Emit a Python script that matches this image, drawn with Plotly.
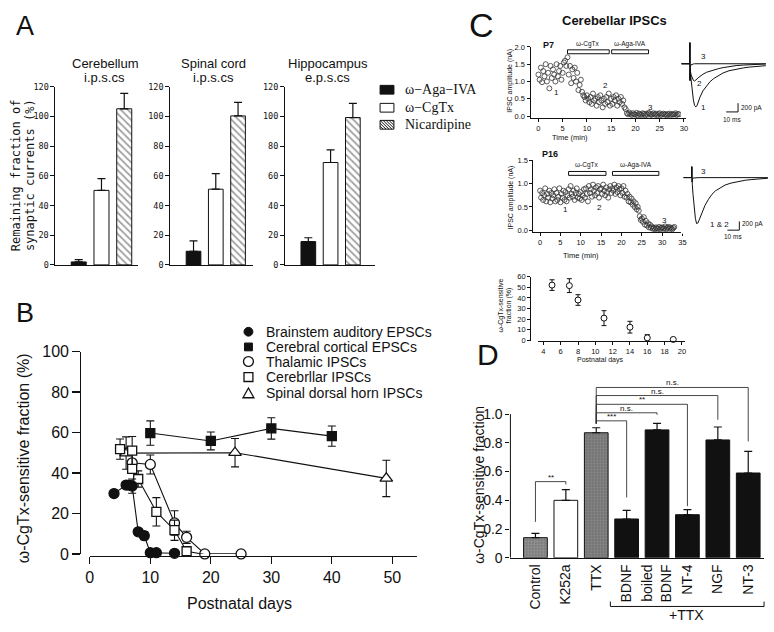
import plotly.graph_objects as go

W, H = 774, 632
SANS = "Liberation Sans, Arial, Helvetica, sans-serif"
SERIF = "Liberation Serif, Times New Roman, serif"
MONO = "DejaVu Sans Mono, monospace"
INK = "#111111"

# ======================= DATA =======================
# ---- Panel A : remaining fraction of synaptic currents (%) ----
a_regions = ["Cerebellum", "Spinal cord", "Hippocampus"]
a_kinds = ["i.p.s.cs", "i.p.s.cs", "e.p.s.cs"]
a_drugs = ["ω−Aga−IVA", "ω−CgTx", "Nicardipine"]
a_aga = [2, 9.2, 15.7]
a_aga_err = [1.5, 7, 2.6]
a_cgtx = [50.2, 51, 69]
a_cgtx_err = [8, 10.5, 8.5]
a_nic = [105.2, 100.4, 99.3]
a_nic_err = [10.4, 9.1, 9.6]
a_yticks = [0, 20, 40, 60, 80, 100, 120]

# ---- Panel B : omega-CgTx-sensitive fraction (%) vs postnatal day ----
b_names = ["Brainstem auditory EPSCs", "Cerebral cortical EPSCs", "Thalamic IPSCs",
           "Cerebrllar IPSCs", "Spinal dorsal horn IPSCs"]
b_brainstem_x = [4, 6, 6.5, 7, 8, 9, 10, 11, 14]
b_brainstem_y = [29.8, 34, 34, 33.5, 10.9, 9, 0.6, 0.6, 0.3]
b_brainstem_e = [None, None, None, 3.5, 1.5, 2, None, None, None]
b_cortical_x = [10, 20, 30, 40]
b_cortical_y = [59.7, 55.8, 62, 58.2]
b_cortical_e = [6, 4.4, 5.3, 5]
b_thal_x = [7, 10, 14, 16, 19, 25]
b_thal_y = [45, 44.2, 15.3, 8.2, 0, 0]
b_thal_e = [None, 4.7, 6, 3, None, None]
b_cereb_x = [5, 7, 7, 8, 11, 14, 16, 19]
b_cereb_y = [51.8, 51, 42, 37, 20.8, 11.7, 1.3, -0.3]
b_cereb_e = [5, 7, None, 4, 7, 5, 2, None]
b_spinal_x = [6, 24, 49]
b_spinal_y = [49.8, 50, 37.3]
b_spinal_e = [8, 7, 9]
b_xticks = [0, 10, 20, 30, 40, 50]
b_yticks = [0, 20, 40, 60, 80, 100]

# ---- Panel C : cerebellar IPSC amplitude (nA) vs time (min) ----
p7_time = [0.0, 0.25, 0.5, 0.75, 1.0, 1.25, 1.5, 1.75, 2.0, 2.25, 2.5, 2.75, 3.0, 3.25, 3.5, 3.75, 4.0, 4.25, 4.5, 4.75,
           5.0, 5.25, 5.5, 5.75, 6.0, 6.25, 6.5, 6.75, 7.0, 7.25, 7.5, 7.75, 8.0, 8.25, 8.5, 8.75, 9.0, 9.25, 9.5, 9.75,
           10.0, 10.25, 10.5, 10.75, 11.0, 11.25, 11.5, 11.75, 12.0, 12.25, 12.5, 12.75, 13.0, 13.25, 13.5, 13.75, 14.0, 14.25, 14.5, 14.75,
           15.0, 15.25, 15.5, 15.75, 16.0, 16.25, 16.5, 16.75, 17.0, 17.25, 17.5, 17.75, 18.0, 18.25, 18.5, 18.75, 19.0, 19.25, 19.5, 19.75,
           20.0, 20.25, 20.5, 20.75, 21.0, 21.25, 21.5, 21.75, 22.0, 22.25, 22.5, 22.75, 23.0, 23.25, 23.5, 23.75, 24.0, 24.25, 24.5, 24.75,
           25.0, 25.25, 25.5, 25.75, 26.0, 26.25, 26.5, 26.75, 27.0, 27.25, 27.5, 27.75, 28.0, 28.25, 28.5, 28.75, 29.0]
p7_amp = [1.20, 1.05, 1.40, 0.98, 1.30, 1.15, 1.50, 1.00, 1.25, 0.80, 1.45, 1.10, 1.35, 1.20, 1.00, 1.50, 1.15, 1.30, 1.45, 1.05,
          1.25, 1.55, 1.60, 1.45, 1.70, 1.20, 1.45, 0.95, 1.35, 1.10, 1.40, 1.00, 1.25, 0.75, 0.90, 1.05, 0.70, 0.60, 0.55, 0.45,
          0.60, 0.50, 0.40, 0.55, 0.35, 0.65, 0.45, 0.50, 0.30, 0.55, 0.40, 0.60, 0.45, 0.25, 0.50, 0.35, 0.55, 0.40, 0.65, 0.30,
          0.50, 0.35, 0.55, 0.45, 0.60, 0.30, 0.50, 0.40, 0.55, 0.35, 0.45, 0.25, 0.20, 0.08, 0.05, 0.10, 0.06, 0.03, 0.08, 0.05,
          0.04, 0.09, 0.02, 0.07, 0.05, 0.03, 0.08, 0.06, 0.02, 0.07, 0.04, 0.09, 0.06, 0.03, 0.05, 0.08, 0.04, 0.07, 0.02, 0.06,
          0.08, 0.03, 0.05, 0.07, 0.04, 0.06, 0.02, 0.05, 0.07, 0.03, 0.06, 0.04, 0.05, 0.08, 0.03, 0.06, 0.05]
p7_drug_names = ["ω-CgTx", "ω-Aga-IVA"]
p7_drug_start = [6.0, 15.1]
p7_drug_end = [14.6, 22.7]

p16_time = [0.0, 0.25, 0.5, 0.75, 1.0, 1.25, 1.5, 1.75, 2.0, 2.25, 2.5, 2.75, 3.0, 3.25, 3.5, 3.75, 4.0, 4.25, 4.5, 4.75,
            5.0, 5.25, 5.5, 5.75, 6.0, 6.25, 6.5, 6.75, 7.0, 7.25, 7.5, 7.75, 8.0, 8.25, 8.5, 8.75, 9.0, 9.25, 9.5, 9.75,
            10.0, 10.25, 10.5, 10.75, 11.0, 11.25, 11.5, 11.75, 12.0, 12.25, 12.5, 12.75, 13.0, 13.25, 13.5, 13.75, 14.0, 14.25, 14.5, 14.75,
            15.0, 15.25, 15.5, 15.75, 16.0, 16.25, 16.5, 16.75, 17.0, 17.25, 17.5, 17.75, 18.0, 18.25, 18.5, 18.75, 19.0, 19.25, 19.5, 19.75,
            20.0, 20.25, 20.5, 20.75, 21.0, 21.25, 21.5, 21.75, 22.0, 22.25, 22.5, 22.75, 23.0, 23.25, 23.5, 23.75, 24.0, 24.25, 24.5, 24.75,
            25.0, 25.25, 25.5, 25.75, 26.0, 26.25, 26.5, 26.75, 27.0, 27.25, 27.5, 27.75, 28.0, 28.25, 28.5, 28.75, 29.0, 29.25, 29.5, 29.75,
            30.0, 30.25, 30.5, 30.75, 31.0, 31.25, 31.5, 31.75, 32.0, 32.25, 32.5, 32.75, 33.0]
p16_amp = [0.85, 0.70, 0.80, 0.65, 0.75, 0.90, 0.62, 0.78, 0.70, 0.85, 0.60, 0.80, 0.68, 0.75, 0.88, 0.62, 0.80, 0.65, 0.72, 0.90,
           0.60, 0.78, 0.70, 0.85, 0.65, 0.82, 0.62, 0.75, 0.88, 0.70, 0.95, 0.78, 0.72, 0.85, 0.65, 0.80, 0.90, 0.70, 0.78, 0.68,
           0.82, 0.65, 0.75, 0.88, 0.70, 0.90, 0.78, 0.62, 0.95, 0.80, 0.88, 0.72, 0.98, 0.85, 0.75, 0.92, 0.80, 0.95, 0.70, 0.88,
           0.90, 0.78, 0.98, 0.85, 0.75, 0.92, 0.82, 0.70, 0.88, 0.95, 0.80, 0.90, 0.85, 0.98, 0.78, 0.92, 0.82, 0.95, 0.88, 0.75,
           0.90, 0.80, 0.95, 0.72, 0.85, 0.70, 0.78, 0.62, 0.72, 0.60, 0.68, 0.55, 0.62, 0.50, 0.58, 0.45, 0.50, 0.42, 0.30, 0.22,
           0.25, 0.18, 0.28, 0.12, 0.20, 0.10, 0.15, 0.06, 0.12, 0.05, 0.08, 0.03, 0.05, 0.02, 0.06, 0.04, 0.03, 0.07, 0.02, 0.05,
           0.06, 0.03, 0.04, 0.08, 0.02, 0.05, 0.07, 0.03, 0.06, 0.04, 0.02, 0.05, 0.07]
p16_drug_names = ["ω-CgTx", "ω-Aga-IVA"]
p16_drug_start = [7.0, 17.8]
p16_drug_end = [16.2, 29.2]

# averaged current traces (time in ms after stimulus, current in pA)
trace_t = [-7, -0.2, 0.0, 0.15, 0.4, 1.0, 2.0, 3.0, 4.0, 5.0, 6.0, 7.0, 8.5, 11, 14, 17, 20, 24, 28, 33, 39, 45, 50, 57, 64]
p7_trace1 = [0, 0, 480, -380, -150, -350, -620, -830, -950, -985, -960, -880, -765, -620, -505, -410, -340, -265, -210, -160, -120, -95, -76, -58, -44]
p7_trace2 = [0, 0, 480, -380, -150, -250, -340, -380, -393, -380, -350, -320, -285, -240, -195, -165, -140, -112, -88, -62, -42, -30, -22, -12, -5]
p7_trace3 = [0, 0, 480, -380, -60, -25, -10, -5, 0, 0, 0, 0, 0, 0, 0, 0, 0, 0, 0, 0, 0, 0, 0, 0, 0]
p16_trace12 = [0, 0, 250, -100, -150, -380, -700, -930, -1050, -1040, -980, -910, -790, -640, -495, -380, -300, -225, -170, -125, -85, -60, -45, -28, -15]
p16_trace3 = [0, 0, 250, -100, -30, -10, -5, 0, 0, 0, 0, 0, 0, 0, 0, 0, 0, 0, 0, 0, 0, 0, 0, 0, 0]

# summary: CgTx-sensitive fraction of cerebellar IPSCs
c_days = [5, 7, 8, 11, 14, 16, 19]
c_frac = [52, 51.5, 38, 21, 12.5, 2.5, 1]
c_frac_err = [5, 6.5, 5, 7, 5.5, 3, 1]

# ---- Panel D ----
d_labels = ["Control", "K252a", "TTX", "BDNF", "boiled<br>BDNF", "NT-4", "NGF", "NT-3"]
d_vals = [0.14, 0.40, 0.87, 0.27, 0.89, 0.30, 0.82, 0.59]
d_errs = [0.03, 0.075, 0.035, 0.06, 0.045, 0.035, 0.09, 0.15]
d_sig = [(0, 1, "**"), (2, 3, "***"), (2, 4, "n.s."), (2, 5, "**"), (2, 6, "n.s."), (2, 7, "n.s.")]

# ======================= HELPERS =======================
def fx(p): return p / W
def fy(p): return 1 - p / H
def xdom(l, r): return [l / W, r / W]
def ydom(t, b): return [1 - b / H, 1 - t / H]
def lin_range(va, pa, vb, pb, lo, hi):
    k = (pb - pa) / (vb - va)
    return [va + (lo - pa) / k, va + (hi - pa) / k]
def sfx(n): return "" if n == 1 else str(n)

fig = go.Figure()
axes = {}
annotations = []
shapes = []

def ann(text, x, y, size, family=SANS, xanchor="center", yanchor="middle", angle=0, xref="paper", yref="paper"):
    annotations.append(dict(text=text, x=fx(x) if xref == "paper" else x, y=fy(y) if yref == "paper" else y,
                            xref=xref, yref=yref, showarrow=False, xanchor=xanchor, yanchor=yanchor,
                            textangle=angle, font=dict(size=size, family=family, color=INK)))

def pline(x0, y0, x1, y1, w=1.0, color=INK):
    shapes.append(dict(type="line", xref="paper", yref="paper", x0=fx(x0), y0=fy(y0), x1=fx(x1), y1=fy(y1),
                       line=dict(color=color, width=w)))

def axis(**kw):
    d = dict(showgrid=False, zeroline=False, showline=True, linecolor=INK, linewidth=1,
             ticks="outside", tickcolor=INK, tickwidth=1, ticklen=4,
             tickfont=dict(family=SANS, size=7.5, color=INK), fixedrange=True)
    d.update(kw)
    return d

# ======================= PANEL A =======================
a_xpix = [(52, 135, 75.5, 121.5), (168, 252, 191.5, 236.5), (284, 375, 307.5, 352.5)]
a_title_x = [102, 212, 327]
for i in range(3):
    n = i + 1
    L, R, c0, c2 = a_xpix[i]
    axes["xaxis" + sfx(n)] = axis(domain=xdom(L, R), range=lin_range(0, c0, 2, c2, L, R), anchor="y" + sfx(n),
                                 showticklabels=False, ticks="")
    axes["yaxis" + sfx(n)] = axis(domain=ydom(81, 264), range=[0, 120], anchor="x" + sfx(n), tickvals=a_yticks,
                                 ticklen=4, tickfont=dict(family=MONO, size=8.5, color=INK))
    fig.add_trace(go.Bar(
        x=[0, 1, 2], y=[a_aga[i], a_cgtx[i], a_nic[i]], width=0.66,
        marker=dict(color=[INK, "white", "white"], line=dict(color=INK, width=1),
                    pattern=dict(shape=["", "", "\\"], fgcolor=INK, size=5, solidity=0.35)),
        error_y=dict(type="data", symmetric=False, array=[a_aga_err[i], a_cgtx_err[i], a_nic_err[i]],
                     arrayminus=[0, 0, 0], color=INK, thickness=1.2, width=4),
        xaxis="x" + sfx(n), yaxis="y" + sfx(n), showlegend=False, hoverinfo="skip"))
    ann(a_regions[i], a_title_x[i], 57, 13)
    ann(a_kinds[i], a_title_x[i], 71, 13)

ann("A", 10, 19, 27, xanchor="left")
ann("Remaining fraction of", 12, 172, 12, family=MONO, angle=-90)
ann("synaptic currents (%)", 27, 172, 12, family=MONO, angle=-90)

# legend A
a_leg_y = [84, 102.5, 120]
for j, name in enumerate(a_drugs):
    y0, y1 = a_leg_y[j] - 4.5, a_leg_y[j] + 4.5
    x0, x1 = 380, 394
    shapes.append(dict(type="rect", xref="paper", yref="paper", x0=fx(x0), x1=fx(x1), y0=fy(y1), y1=fy(y0),
                       fillcolor=INK if j == 0 else "white", line=dict(color=INK, width=1)))
    if j == 2:
        h = y1 - y0
        a = -h
        while a < (x1 - x0):
            sx, sy = x0 + a, y0
            ex, ey = x0 + a + h, y1
            if sx < x0:
                sy = y0 + (x0 - sx); sx = x0
            if ex > x1:
                ey = y1 - (ex - x1); ex = x1
            pline(sx, sy, ex, ey, w=1)
            a += 3
    ann(name, 403, a_leg_y[j], 14, family=SERIF, xanchor="left")

# ======================= PANEL B =======================
axes["xaxis4"] = axis(domain=xdom(86.7, 417), range=lin_range(0, 86.7, 50, 392.4, 86.7, 417), anchor="free",
                      position=fy(563), tickvals=b_xticks, ticklen=7, linewidth=1.2, tickwidth=1.2,
                      tickfont=dict(family=SANS, size=16, color=INK))
axes["yaxis4"] = axis(domain=ydom(353, 561), range=[0, 100], anchor="free", position=fx(77), tickvals=b_yticks,
                      ticklen=8, linewidth=1.2, tickwidth=1.2, tickfont=dict(family=SANS, size=16, color=INK))

def b_series(xs, ys, es, symbol, fill, size):
    ex = [x for x, e in zip(xs, es) if e is not None]
    ey = [y for y, e in zip(ys, es) if e is not None]
    ee = [e for e in es if e is not None]
    fig.add_trace(go.Scatter(x=ex, y=ey, mode="markers", marker=dict(size=1, color="rgba(0,0,0,0)"),
                             error_y=dict(type="data", array=ee, color=INK, thickness=1.1, width=4),
                             xaxis="x4", yaxis="y4", showlegend=False, hoverinfo="skip", cliponaxis=False))
    fig.add_trace(go.Scatter(x=xs, y=ys, mode="lines+markers", line=dict(color=INK, width=1.1),
                             marker=dict(symbol=symbol, size=size, color=fill, line=dict(color=INK, width=1.3)),
                             xaxis="x4", yaxis="y4", showlegend=False, hoverinfo="skip", cliponaxis=False))

b_series(b_spinal_x, b_spinal_y, b_spinal_e, "triangle-up", "white", 11)
b_series(b_cortical_x, b_cortical_y, b_cortical_e, "square", INK, 9)
b_series(b_thal_x, b_thal_y, b_thal_e, "circle", "white", 10)
b_series(b_cereb_x, b_cereb_y, b_cereb_e, "square", "white", 9)
b_series(b_brainstem_x, b_brainstem_y, b_brainstem_e, "circle", INK, 10)

ann("B", 10, 313, 27, xanchor="left")
ann("Postnatal days", 238, 612, 16)
ann("ω-CgTx-sensitive fraction (%)", 20, 463, 16, angle=-90)

b_leg_y = [332.7, 348.3, 363.3, 379.3, 396]
lx = 247
shapes.append(dict(type="circle", xref="paper", yref="paper", x0=fx(lx - 4.5), x1=fx(lx + 4.5),
                   y0=fy(b_leg_y[0] + 4.5), y1=fy(b_leg_y[0] - 4.5), fillcolor=INK, line=dict(color=INK, width=1)))
shapes.append(dict(type="rect", xref="paper", yref="paper", x0=fx(lx - 4), x1=fx(lx + 4),
                   y0=fy(b_leg_y[1] + 4), y1=fy(b_leg_y[1] - 4), fillcolor=INK, line=dict(color=INK, width=1)))
shapes.append(dict(type="circle", xref="paper", yref="paper", x0=fx(lx - 5), x1=fx(lx + 5),
                   y0=fy(b_leg_y[2] + 5), y1=fy(b_leg_y[2] - 5), fillcolor="white", line=dict(color=INK, width=1.3)))
shapes.append(dict(type="rect", xref="paper", yref="paper", x0=fx(lx - 4.5), x1=fx(lx + 4.5),
                   y0=fy(b_leg_y[3] + 4.5), y1=fy(b_leg_y[3] - 4.5), fillcolor="white", line=dict(color=INK, width=1.3)))
ty = b_leg_y[4]
shapes.append(dict(type="path", xref="paper", yref="paper",
                   path="M {} {} L {} {} L {} {} Z".format(fx(lx - 5.5), fy(ty + 4.5), fx(lx + 5.5), fy(ty + 4.5), fx(lx), fy(ty - 5.5)),
                   fillcolor="white", line=dict(color=INK, width=1.3)))
for j, name in enumerate(b_names):
    ann(name, 263, b_leg_y[j], 14, xanchor="left")

# ======================= PANEL C =======================
ann("C", 468, 17, 34, xanchor="left")
ann("<b>Cerebellar IPSCs</b>", 617, 13, 13)

# P7 time course
axes["xaxis5"] = axis(domain=xdom(532, 689.5), range=lin_range(0, 540, 30, 687, 532, 689.5), anchor="y5",
                      tickvals=[0, 5, 10, 15, 20, 25, 30], ticklen=3)
axes["yaxis5"] = axis(domain=ydom(40, 112.8), range=lin_range(0, 111, 2, 40, 112.8, 40), anchor="x5",
                      tickvals=[0, 0.5, 1, 1.5, 2], tickformat=".1f", ticklen=3)
fig.add_trace(go.Scatter(x=p7_time, y=p7_amp, mode="markers",
                         marker=dict(symbol="circle-open", size=5, color="#333", line=dict(width=0.8)),
                         xaxis="x5", yaxis="y5", showlegend=False, hoverinfo="skip", cliponaxis=False))
for j in range(2):
    shapes.append(dict(type="rect", xref="x5", yref="paper", x0=p7_drug_start[j], x1=p7_drug_end[j],
                       y0=fy(47), y1=fy(43), fillcolor="white", line=dict(color=INK, width=1)))
    ann(p7_drug_names[j], (p7_drug_start[j] + p7_drug_end[j]) / 2, 37.5, 6.5, xref="x5")
ann("<b>P7</b>", 543, 38, 9, xanchor="left")
ann("1", 558, 87, 8)
ann("2", 608, 80, 8)
ann("3", 653, 102, 8)
ann("Time (min)", 572, 133, 7.5)
ann("IPSC amplitude (nA)", 511, 75, 7, angle=-90)

# P7 traces
axes["xaxis6"] = dict(domain=xdom(684, 773), range=lin_range(0, 693, 10, 705, 684, 773), anchor="y6", visible=False, fixedrange=True)
axes["yaxis6"] = dict(domain=ydom(33, 112), range=lin_range(0, 57.3, -200, 66.3, 112, 33), anchor="x6", visible=False, fixedrange=True)
for tr in (p7_trace1, p7_trace2, p7_trace3):
    fig.add_trace(go.Scatter(x=trace_t, y=tr, mode="lines", line=dict(color=INK, width=1),
                             xaxis="x6", yaxis="y6", showlegend=False, hoverinfo="skip"))
shapes.append(dict(type="line", xref="x6", yref="y6", x0=40.6, x1=40.6, y0=-900, y1=-1100, line=dict(color=INK, width=1)))
shapes.append(dict(type="line", xref="x6", yref="y6", x0=30.6, x1=40.6, y0=-1100, y1=-1100, line=dict(color=INK, width=1)))
ann("3", 707, 50, 8)
ann("2", 703, 78, 8)
ann("1", 707, 102, 8)
ann("200 pA", 743, 103, 6.5, xanchor="left")
ann("10 ms", 736, 115, 6.5)

# P16 time course
axes["xaxis7"] = axis(domain=xdom(535, 686), range=lin_range(0, 541.7, 30, 665, 535, 686), anchor="y7",
                      tickvals=[0, 5, 10, 15, 20, 25, 30, 35], ticklen=3)
axes["yaxis7"] = axis(domain=ydom(156.7, 230), range=lin_range(0, 228.3, 1.5, 156.7, 230, 156.7), anchor="x7",
                      tickvals=[0, 0.5, 1, 1.5], tickformat=".1f", ticklen=3)
fig.add_trace(go.Scatter(x=p16_time, y=p16_amp, mode="markers",
                         marker=dict(symbol="circle-open", size=5, color="#333", line=dict(width=0.8)),
                         xaxis="x7", yaxis="y7", showlegend=False, hoverinfo="skip", cliponaxis=False))
for j in range(2):
    shapes.append(dict(type="rect", xref="x7", yref="paper", x0=p16_drug_start[j], x1=p16_drug_end[j],
                       y0=fy(172), y1=fy(168), fillcolor="white", line=dict(color=INK, width=1)))
    ann(p16_drug_names[j], (p16_drug_start[j] + p16_drug_end[j]) / 2, 161.5, 6.5, xref="x7")
ann("<b>P16</b>", 542, 150, 9, xanchor="left")
ann("1", 567, 207, 8)
ann("2", 602, 205, 8)
ann("3", 667, 218, 8)
ann("Time (min)", 583, 254, 7.5)
ann("IPSC amplitude (nA)", 512, 195, 7, angle=-90)

# P16 traces
axes["xaxis8"] = dict(domain=xdom(684, 773), range=lin_range(0, 695, 10, 707, 684, 773), anchor="y8", visible=False, fixedrange=True)
axes["yaxis8"] = dict(domain=ydom(158, 232), range=lin_range(0, 174.3, -200, 183.3, 232, 158), anchor="x8", visible=False, fixedrange=True)
for tr in (p16_trace12, p16_trace3):
    fig.add_trace(go.Scatter(x=trace_t, y=tr, mode="lines", line=dict(color=INK, width=1),
                             xaxis="x8", yaxis="y8", showlegend=False, hoverinfo="skip"))
shapes.append(dict(type="line", xref="x8", yref="y8", x0=40, x1=40, y0=-1000, y1=-1200, line=dict(color=INK, width=1)))
shapes.append(dict(type="line", xref="x8", yref="y8", x0=30, x1=40, y0=-1200, y1=-1200, line=dict(color=INK, width=1)))
ann("3", 707, 168, 8)
ann("1 &amp; 2", 711, 222, 8, xanchor="left")
ann("200 pA", 744, 222, 6.5, xanchor="left")
ann("10 ms", 737, 235, 6.5)

# summary
axes["xaxis9"] = axis(domain=xdom(540, 688), range=lin_range(4, 545, 20, 685, 540, 688), anchor="free",
                      position=fy(342.5), tickvals=[4, 6, 8, 10, 12, 14, 16, 18, 20], ticklen=3)
axes["yaxis9"] = axis(domain=ydom(276, 341.7), range=[0, 60], anchor="free", position=fx(531.7),
                      tickvals=[0, 10, 20, 30, 40, 50, 60], ticklen=3)
fig.add_trace(go.Scatter(x=c_days, y=c_frac, mode="markers", marker=dict(size=1, color="rgba(0,0,0,0)"),
                         error_y=dict(type="data", array=c_frac_err, color=INK, thickness=1, width=2.5),
                         xaxis="x9", yaxis="y9", showlegend=False, hoverinfo="skip", cliponaxis=False))
fig.add_trace(go.Scatter(x=c_days, y=c_frac, mode="markers",
                         marker=dict(symbol="circle", size=6, color="white", line=dict(color=INK, width=1)),
                         xaxis="x9", yaxis="y9", showlegend=False, hoverinfo="skip", cliponaxis=False))
ann("ω-CgTx-sensitive", 502, 306, 7, angle=-90)
ann("fraction (%)", 510, 306, 7, angle=-90)
ann("Postnatal days", 602, 362, 7)

# ======================= PANEL D =======================
axes["xaxis10"] = axis(domain=xdom(511.7, 768), range=lin_range(0, 537, 7, 752, 511.7, 768), anchor="y10",
                       tickvals=list(range(8)), ticktext=d_labels, ticks="", tickangle=-90,
                       tickfont=dict(family=SANS, size=14, color=INK))
d_yr = lin_range(0, 565, 1, 417.3, 565, 388)
axes["yaxis10"] = axis(domain=ydom(388, 565), range=d_yr, anchor="x10", showline=False,
                       tickvals=[0, 0.2, 0.4, 0.6, 0.8, 1.0], ticktext=["0", "0.2", "0.4", "0.6", "0.8", "1.0"],
                       ticklen=4, tickfont=dict(family=SANS, size=14, color=INK))
shapes.append(dict(type="line", xref="x10 domain", yref="y10", x0=0, x1=0, y0=0, y1=1.0, line=dict(color=INK, width=1)))
d_colors = ["#9a9a9a", "white", "#8c8c8c", INK, INK, INK, INK, INK]
d_patterns = [".", "", ".", "", "", "", "", ""]
fig.add_trace(go.Bar(
    x=list(range(8)), y=d_vals, width=0.78,
    marker=dict(color=d_colors, line=dict(color=INK, width=1),
                pattern=dict(shape=d_patterns, fgcolor="#2a2a2a", size=3, solidity=0.45)),
    error_y=dict(type="data", symmetric=False, array=d_errs, arrayminus=[0] * 8, color=INK, thickness=1.2, width=4),
    xaxis="x10", yaxis="y10", showlegend=False, hoverinfo="skip"))

sig_level = {(0, 1): 0.53, (2, 3): 0.953, (2, 4): 1.009, (2, 5): 1.068, (2, 6): 1.129, (2, 7): 1.185}
sig_left_foot = {(0, 1): 0.25}
sig_right_foot = {(0, 1): 0.51, (2, 3): 0.42, (2, 4): 0.995, (2, 5): 0.36, (2, 6): 0.96, (2, 7): 0.81}
for a, b, lab in d_sig:
    lv = sig_level[(a, b)]
    lf = sig_left_foot.get((a, b), 0.934)
    rf = sig_right_foot[(a, b)]
    for (x0, y0, x1, y1) in [(a, lf, a, lv), (a, lv, b, lv), (b, lv, b, rf)]:
        shapes.append(dict(type="line", xref="x10", yref="y10", x0=x0, x1=x1, y0=y0, y1=y1,
                           line=dict(color="#333", width=0.9)))
    annotations.append(dict(text=lab, x=(a + b) / 2, y=lv, xref="x10", yref="y10", showarrow=False,
                            xanchor="center", yanchor="bottom", yshift=-2,
                            font=dict(size=8, family=SANS, color=INK)))

pline(612.7, 610, 612.7, 615)
pline(612.7, 615, 768, 615)
pline(768, 615, 768, 610)
ann("+TTX", 690, 624, 14)
ann("D", 476, 356, 30, xanchor="left")
ann("ω-CgTx-sensitive fraction", 480, 490, 14, angle=-90)

fig.update_layout(width=W, height=H, margin=dict(l=0, r=0, t=0, b=0),
                  paper_bgcolor="white", plot_bgcolor="white", showlegend=False,
                  annotations=annotations, shapes=shapes, bargap=0, **axes)
fig.write_html("out.html", config={"displayModeBar": False, "staticPlot": True},
               post_script="document.body.style.margin='0';document.body.style.overflow='hidden';")
